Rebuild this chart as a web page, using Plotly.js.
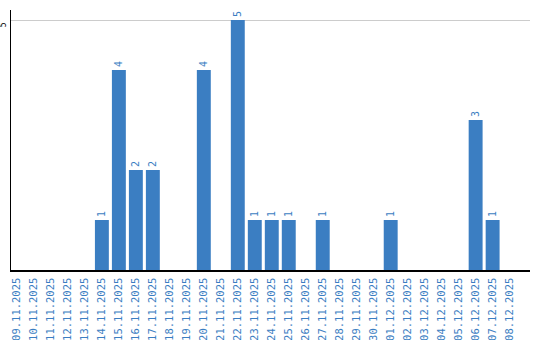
<!DOCTYPE html>
<html><head><meta charset="utf-8">
<script src="https://cdn.plot.ly/plotly-3.0.1.min.js"></script>
<style>html,body{margin:0;padding:0;background:#fff}#c{width:540px;height:340px}</style>
</head><body><div id="c"></div>
<script>
const dates = ["09.11.2025","10.11.2025","11.11.2025","12.11.2025","13.11.2025","14.11.2025","15.11.2025","16.11.2025","17.11.2025","18.11.2025","19.11.2025","20.11.2025","21.11.2025","22.11.2025","23.11.2025","24.11.2025","25.11.2025","26.11.2025","27.11.2025","28.11.2025","29.11.2025","30.11.2025","01.12.2025","02.12.2025","03.12.2025","04.12.2025","05.12.2025","06.12.2025","07.12.2025","08.12.2025"];
const counts = [0,0,0,0,0,1,4,2,2,0,0,4,0,5,1,1,1,0,1,0,0,0,1,0,0,0,0,3,1,0];
const yTicks = [5];

const blue = "#3b7ec2";
const labels = counts.map(v => v > 0 ? String(v) : "");
Plotly.newPlot("c", [{
  type: "bar", x: dates, y: counts,
  marker: {color: blue},
  text: labels, textposition: "outside", textangle: -90,
  textfont: {family: "DejaVu Sans Mono, monospace", size: 10, color: blue},
  cliponaxis: false, hoverinfo: "none"
}], {
  width: 540, height: 340,
  margin: {l: 11, r: 10, t: 10, b: 70, pad: 0},
  paper_bgcolor: "#fff", plot_bgcolor: "#fff",
  bargap: 0.18, showlegend: false,
  font: {family: "DejaVu Sans Mono, monospace"},
  xaxis: {
    type: "category", range: [-0.35, 30.2], tickangle: -90,
    showline: true, linecolor: "#000", linewidth: 1.5, showgrid: false,
    ticks: "", ticklabelstandoff: 2,
    tickfont: {family: "DejaVu Sans Mono, monospace", size: 10.5, color: blue},
    fixedrange: true
  },
  yaxis: {
    range: [0, 5.2], tickvals: yTicks, ticktext: yTicks.map(String), tickangle: -90,
    showline: true, linecolor: "#000", linewidth: 1.5,
    showgrid: true, gridcolor: "#cccccc", gridwidth: 1, zeroline: false,
    ticks: "", ticklabelshift: 6,
    tickfont: {family: "DejaVu Sans Mono, monospace", size: 8, color: "#000"},
    fixedrange: true
  }
}, {displayModeBar: false, staticPlot: true});
</script></body></html>
